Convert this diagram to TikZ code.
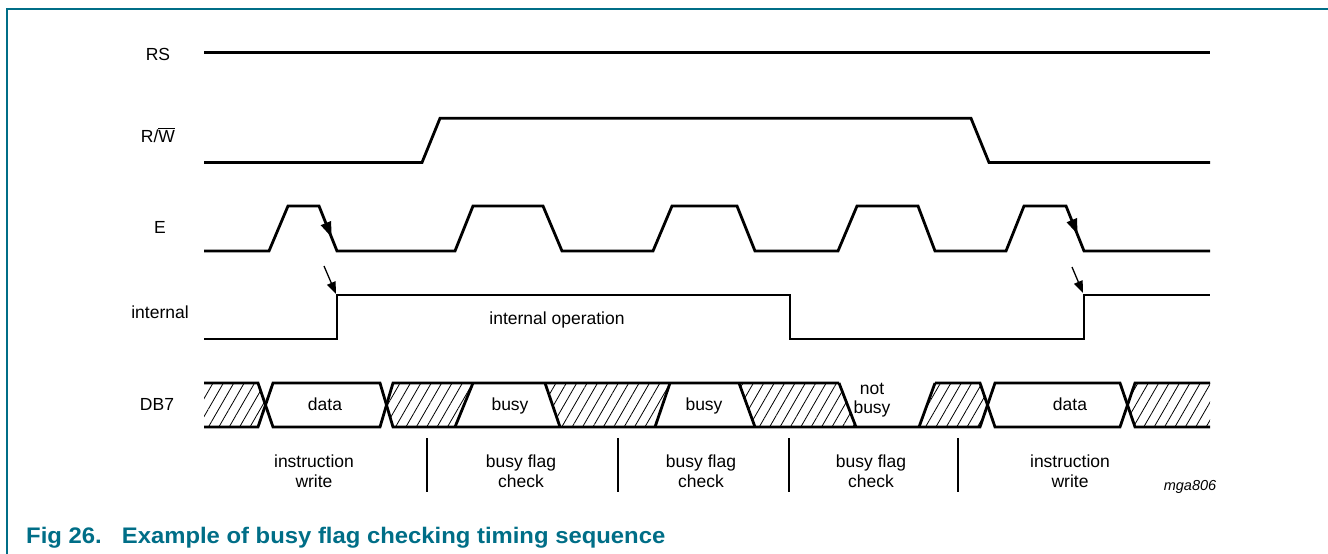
\documentclass[tikz,border=0pt]{standalone}
\usepackage{fontspec}
\setmainfont{Liberation Sans}
\usetikzlibrary{arrows.meta,patterns.meta}
\definecolor{nxpteal}{RGB}{0,110,135}
\begin{document}
\begin{tikzpicture}[x=1pt,y=-1pt,
  sig/.style={line width=2.8pt, line join=miter, black},
  hatch/.style={pattern={Lines[angle=60,distance=9pt,line width=0.8pt]}, pattern color=black},
  lbl/.style={font=\fontsize{17.5}{20}\selectfont, inner sep=0pt, align=center, anchor=base},
  sep/.style={line width=1.3pt, black},
  edgearrow/.style={line width=1pt, -{Triangle[length=15pt,width=11pt]}},
  smallarrow/.style={line width=1.3pt, -{Triangle[length=12pt,width=9pt]}},
  frame/.style={line width=1.5pt, nxpteal}
]
\useasboundingbox (0,0) rectangle (1328,554);
% frame
\draw[frame] (7,554) -- (7,9) -- (1328,9);

% signal names
\node[lbl] (nRS) at (158,60) {RS};
\node[lbl] (nRW) at (158,142) {R/$\overline{\hbox{W}}$};
\node[lbl] (nE) at (160,233) {E};
\node[lbl] (nInt) at (160,318) {internal};
\node[lbl] (nDB) at (157,410) {DB7};

% RS
\draw[sig] (204,52.3) -- (1210,52.3);
% R/W
\draw[sig] (204,162.5) -- (422,162.5) -- (440,118.3) -- (971,118.3) -- (989,162.5) -- (1210,162.5);
% E
\draw[sig] (204,251) -- (269,251) -- (288,206) -- (319,206) -- (337,251)
  -- (455,251) -- (473,206) -- (543,206) -- (562,251)
  -- (653,251) -- (672,206) -- (737,206) -- (755,251)
  -- (838,251) -- (857,206) -- (918,206) -- (935,251)
  -- (1006,251) -- (1024,206) -- (1066,206) -- (1084,251) -- (1210,251);
% internal
\draw[sig] (204,339) -- (337,339) -- (337,295) -- (790,295) -- (790,339) -- (1084,339) -- (1084,295) -- (1210,295);
\node[lbl] (intop) at (557,324) {internal operation};

% arrows
\coordinate (ea1s) at (319,206);
\coordinate (ea1t) at (331.5,237);
\coordinate (ea2s) at (1066,206);
\coordinate (ea2t) at (1077.5,234);
\draw[edgearrow] (ea1s) -- (ea1t);
\draw[edgearrow] (ea2s) -- (ea2t);
\coordinate (sa1s) at (324,266);
\coordinate (sa1t) at (336,294);
\coordinate (sa2s) at (1072,267);
\coordinate (sa2t) at (1083,293);
\draw[smallarrow] (sa1s) -- (sa1t);
\draw[smallarrow] (sa2s) -- (sa2t);

% DB7 hatch fills
\fill[hatch] (204,383) -- (258,383) -- (265.5,405) -- (258,427) -- (204,427) -- cycle;
\fill[hatch] (386.5,405) -- (393,383) -- (473,383) -- (455,427) -- (393,427) -- cycle;
\fill[hatch] (545,383) -- (670,383) -- (655,427) -- (560,427) -- cycle;
\fill[hatch] (739,383) -- (839,383) -- (856,427) -- (755,427) -- cycle;
\fill[hatch] (935,383) -- (980,383) -- (987.5,405) -- (980,427) -- (919,427) -- cycle;
\fill[hatch] (1127.5,405) -- (1135,383) -- (1210,383) -- (1210,427) -- (1135,427) -- cycle;

% DB7 outlines
\draw[sig] (204,383) -- (258,383) -- (273,427) -- (380,427) -- (393,383) -- (839,383);
\draw[sig] (204,427) -- (258,427) -- (273,383) -- (380,383) -- (393,427) -- (980,427) -- (995,383) -- (1120,383) -- (1135,427) -- (1210,427);
\draw[sig] (935,383) -- (980,383) -- (995,427) -- (1120,427) -- (1135,383) -- (1210,383);
\draw[sig] (473,383) -- (455,427);
\draw[sig] (545,383) -- (560,427);
\draw[sig] (670,383) -- (655,427);
\draw[sig] (739,383) -- (755,427);
\draw[sig] (839,383) -- (856,427);
\draw[sig] (935,383) -- (919,427);

\node[lbl] (d1) at (325,410) {data};
\node[lbl] (b1) at (510,410) {busy};
\node[lbl] (b2) at (704,410) {busy};
\node[lbl, font=\fontsize{17.5}{19}\selectfont] (nb) at (872,413) {not\\busy};
\node[lbl] (d2) at (1070,410) {data};

% separators
\draw[sep] (427,438) -- (427,492);
\draw[sep] (618,438) -- (618,492);
\draw[sep] (789,438) -- (789,492);
\draw[sep] (958,438) -- (958,492);

\node[lbl] (ph1) at (314,487) {instruction\\write};
\node[lbl] (ph2) at (521,487) {busy flag\\check};
\node[lbl] (ph3) at (701,487) {busy flag\\check};
\node[lbl] (ph4) at (871,487) {busy flag\\check};
\node[lbl] (ph5) at (1070,487) {instruction\\write};
\node[lbl, font=\fontsize{14.5}{16}\itshape] (ref) at (1190,490) {mga806};

% caption
\node[anchor=base west, inner sep=0pt, text=nxpteal, font=\fontsize{22.5}{25}\bfseries] (cap) at (26,543) {\scalebox{1.06}[1]{Fig 26.\hspace{19pt}Example of busy flag checking timing sequence}};
\end{tikzpicture}
\end{document}
